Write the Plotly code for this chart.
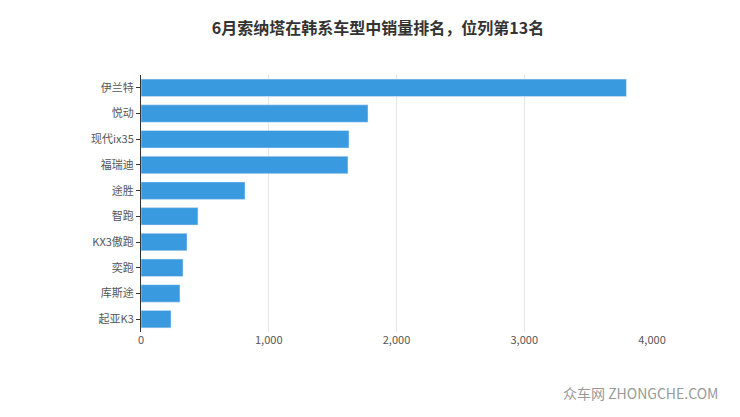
import plotly.graph_objects as go

models = ["伊兰特", "悦动", "现代ix35", "福瑞迪", "途胜", "智跑", "KX3傲跑", "奕跑", "库斯途", "起亚K3"]
sales = [3800, 1777, 1628, 1620, 814, 446, 360, 329, 305, 235]
tick_vals = [0, 1000, 2000, 3000, 4000]
tick_text = ["0", "1,000", "2,000", "3,000", "4,000"]

fig = go.Figure(go.Bar(
    x=sales, y=models, orientation="h",
    marker_color="#3a9ae0", width=0.68,
))
fig.update_layout(
    width=740, height=417,
    margin=dict(l=133, r=96, t=67, b=93),
    plot_bgcolor="white", paper_bgcolor="white",
    font=dict(family="Noto Sans CJK SC, sans-serif", size=11, color="#555"),
    title=dict(text="<b>6月索纳塔在韩系车型中销量排名，位列第13名</b>",
               x=0.5, y=0.965, yanchor="top", xanchor="center", font=dict(size=16, color="#333")),
    showlegend=False,
)
fig.update_xaxes(range=[0, 4000], tickvals=tick_vals, ticktext=tick_text, automargin=False,
                 showgrid=True, gridcolor="#e6e6e6", zeroline=False, ticks="")
fig.update_yaxes(autorange="reversed", showline=True, linecolor="#333", automargin=False,
                 ticks="outside", ticklen=4, tickcolor="#333")
fig.add_annotation(text="众车网 ZHONGCHE.COM", xref="paper", yref="paper",
                   x=1.133, y=-0.284, xanchor="right", yanchor="bottom", showarrow=False,
                   font=dict(size=14, color="#999"))
fig.write_html("out.html")
